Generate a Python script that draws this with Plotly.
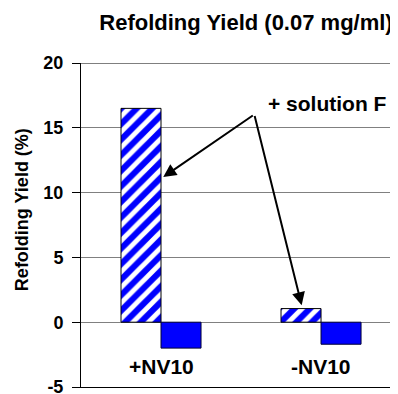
import plotly.graph_objects as go

categories = ["+NV10", "-NV10"]
with_solution_f = [16.5, 1.05]
without_solution_f = [-2.0, -1.7]
y_ticks = [-5, 0, 5, 10, 15, 20]
y_tick_labels = ["-5", "0", "5", "10", "15", "20"]

title_text = "Refolding Yield (0.07 mg/ml)"
y_title = "Refolding Yield (%)"
note_text = "+ solution F"

FONT = "Liberation Sans, Arial, sans-serif"

fig = go.Figure()
fig.add_trace(go.Bar(
    x=categories, y=with_solution_f, name="+ solution F",
    marker=dict(color="#0000FF",
                line=dict(color="black", width=1),
                pattern=dict(shape="/", fgcolor="white", bgcolor="#0000FF",
                             size=11, solidity=0.45, fillmode="replace")),
))
fig.add_trace(go.Bar(
    x=categories, y=without_solution_f, name="- solution F",
    marker=dict(color="#0000FF", line=dict(color="#000033", width=1)),
))

# category labels inside plot area
for c in categories:
    fig.add_annotation(x=c, y=-3.4, xref="x", yref="y", text=c,
                       showarrow=False,
                       font=dict(family=FONT, size=21, color="black", weight="bold"))

# "+ solution F" label and arrows
fig.add_annotation(x=1.04, y=16.9, xref="x", yref="y", text=note_text,
                   showarrow=False,
                   font=dict(family=FONT, size=21, color="black", weight="bold"))
vertex = (0.583, 16.03)
for tip in [(0.014, 11.2), (0.879, 1.31)]:
    fig.add_annotation(x=tip[0], y=tip[1], ax=vertex[0], ay=vertex[1],
                       xref="x", yref="y", axref="x", ayref="y", text="",
                       showarrow=True, arrowhead=2, arrowsize=1.3, arrowwidth=2,
                       arrowcolor="black")

# y-axis title
fig.add_annotation(x=-0.186, y=0.546, xref="paper", yref="paper",
                   xanchor="center", yanchor="middle",
                   text=y_title, textangle=-90, showarrow=False,
                   font=dict(family=FONT, size=18, color="black", weight="bold"))

# top border line at 20
fig.add_shape(type="line", xref="paper", yref="y", x0=0, x1=1, y0=20, y1=20,
              line=dict(color="black", width=1))

# page body has an 8px margin; compensate
fig.update_layout(
    width=390, height=386,
    margin=dict(l=73, r=0, t=55, b=7),
    paper_bgcolor="white", plot_bgcolor="white",
    showlegend=False,
    barmode="group", bargap=0.5, bargroupgap=0,
    title=dict(text=title_text, x=238 / 390, xanchor="center",
               y=1 - 14 / 386, yanchor="middle",
               font=dict(family=FONT, size=22, color="black", weight="bold")),
    font=dict(family=FONT, color="black"),
)
fig.update_xaxes(range=[-0.5, 1.481], showticklabels=False, ticks="",
                 showline=True, linecolor="black", linewidth=1,
                 showgrid=False, zeroline=False, fixedrange=True, automargin=False)
fig.update_yaxes(range=[-5, 20], tickvals=y_ticks, ticktext=y_tick_labels,
                 ticks="outside", ticklen=8,
                 tickcolor="black", showline=True, linecolor="black", linewidth=1,
                 showgrid=True, gridcolor="#808080", gridwidth=1,
                 zeroline=True, zerolinecolor="#808080", zerolinewidth=1,
                 tickfont=dict(family=FONT, size=18, color="black", weight="bold"),
                 ticklabelstandoff=5, ticklabeloverflow="allow",
                 fixedrange=True, automargin=False)

fig.write_html("out.html")
